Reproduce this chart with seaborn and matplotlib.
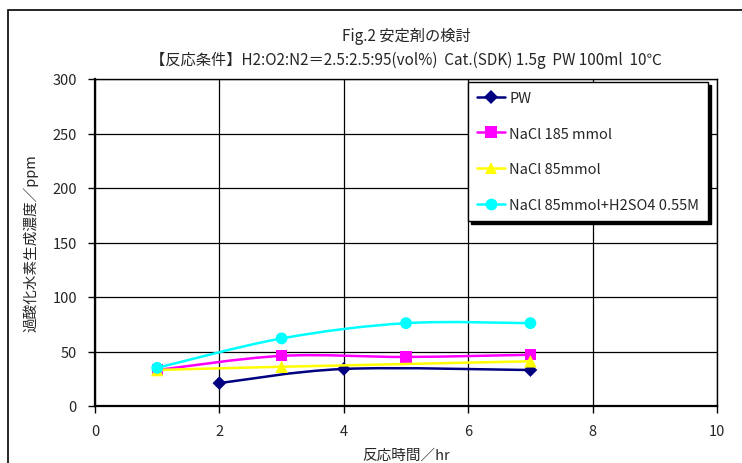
import numpy as np
import pandas as pd
import matplotlib
matplotlib.use("Agg")
import matplotlib.pyplot as plt
from matplotlib.path import Path
from matplotlib.patches import PathPatch, Rectangle
from matplotlib.lines import Line2D
import seaborn as sns

# ---- data ----
series_names = ["PW", "NaCl 185 mmol", "NaCl 85mmol", "NaCl 85mmol+H2SO4 0.55M"]
pw_time = [2, 4, 7]
pw_conc = [21, 34, 33]
nacl185_time = [1, 3, 5, 7]
nacl185_conc = [33, 46, 45, 47]
nacl85_time = [1, 3, 7]
nacl85_conc = [33, 36, 41]
acid_time = [1, 3, 5, 7]
acid_conc = [35, 62, 76, 76]

x_ticks = [0, 2, 4, 6, 8, 10]
y_ticks = [0, 50, 100, 150, 200, 250, 300]

title_line1 = "Fig.2 安定剤の検討"
title_line2 = "【反応条件】H2:O2:N2＝2.5:2.5:95(vol%)  Cat.(SDK) 1.5g  PW 100ml  10℃"
x_label = "反応時間／hr"
y_label = "過酸化水素生成濃度／ppm"

colors = ["#000080", "#FF00FF", "#FFFF00", "#00FFFF"]
markers = ["D", "s", "^", "o"]
msizes = [7, 8, 9, 8.5]

frames = []
for name, t, c in zip(series_names,
                      [pw_time, nacl185_time, nacl85_time, acid_time],
                      [pw_conc, nacl185_conc, nacl85_conc, acid_conc]):
    frames.append(pd.DataFrame({"time": t, "conc": c, "series": name}))
df = pd.concat(frames, ignore_index=True)

sns.set_style("white")
plt.rcParams["font.family"] = ["Noto Sans CJK JP", "DejaVu Sans"]

fig = plt.figure(figsize=(7.42, 4.64), dpi=100)
ax = fig.add_axes([95 / 742, 1 - 407 / 464, 622 / 742, 327 / 464])


def smooth_path(xs, ys):
    """Cubic Bezier path through the points (Catmull-Rom control points)."""
    pts = np.column_stack([xs, ys]).astype(float)
    verts = [pts[0]]
    codes = [Path.MOVETO]
    n = len(pts)
    for i in range(n - 1):
        p0 = pts[i - 1] if i > 0 else pts[i]
        p1 = pts[i]
        p2 = pts[i + 1]
        p3 = pts[i + 2] if i + 2 < n else pts[i + 1]
        c1 = p1 + (p2 - p0) / 6.0
        c2 = p2 - (p3 - p1) / 6.0
        verts += [c1, c2, p2]
        codes += [Path.CURVE4] * 3
    return Path(verts, codes)


for i, name in enumerate(series_names):
    sub = df[df["series"] == name]
    patch = PathPatch(smooth_path(sub["time"].values, sub["conc"].values),
                      facecolor="none", edgecolor=colors[i], lw=1.8,
                      zorder=3 + 2 * i)
    ax.add_patch(patch)
    sns.scatterplot(data=sub, x="time", y="conc", ax=ax, color=colors[i],
                    marker=markers[i], s=msizes[i] ** 2, edgecolor="none",
                    linewidth=0, zorder=4 + 2 * i, legend=False)

ax.set_xlim(0, 10)
ax.set_ylim(0, 300)
ax.set_xticks(x_ticks)
ax.set_yticks(y_ticks)
ax.set_xticklabels([str(v) for v in x_ticks])
ax.set_yticklabels([str(v) for v in y_ticks])
ax.grid(True, color="black", lw=0.9)
ax.set_axisbelow(True)
for sp in ax.spines.values():
    sp.set_visible(True)
    sp.set_color("black")
    sp.set_linewidth(1.0)
ax.spines["left"].set_linewidth(1.6)
ax.spines["bottom"].set_linewidth(1.6)
ax.tick_params(axis="both", direction="out", length=5, width=1, color="black",
               labelsize=10.5, left=True, bottom=True)
ax.tick_params(axis="x", pad=8)
ax.tick_params(axis="y", pad=8)
ax.set_xlabel(x_label, fontsize=10.5, labelpad=7)
ax.set_ylabel(y_label, fontsize=10.5, labelpad=10)

fig.text(406 / 742, 1 - 36 / 464, title_line1, ha="center", va="center",
         fontsize=11)
fig.text(406 / 742, 1 - 60 / 464, title_line2, ha="center", va="center",
         fontsize=11)

handles = [Line2D([], [], color=colors[i], lw=1.8, marker=markers[i],
                  markersize=msizes[i], markeredgewidth=0)
           for i in range(len(series_names))]
leg = ax.legend(handles, series_names, loc="upper left",
                bbox_to_anchor=(0.6, 0.991), frameon=True, fancybox=False,
                edgecolor="black", framealpha=1, facecolor="white",
                shadow={"color": "black", "alpha": 1}, fontsize=10.5,
                labelspacing=1.5, handlelength=1.9, handletextpad=0.3,
                borderpad=0.6, borderaxespad=0)
leg.get_frame().set_linewidth(1.0)
leg.set_zorder(20)

# outer chart frame
fig.patches.append(Rectangle((8 / 742, -0.1), 1.2, 1.1 - 11 / 464,
                             transform=fig.transFigure, fill=False,
                             edgecolor="black", lw=1.2, clip_on=False))

fig.savefig("out.png", dpi=100)
